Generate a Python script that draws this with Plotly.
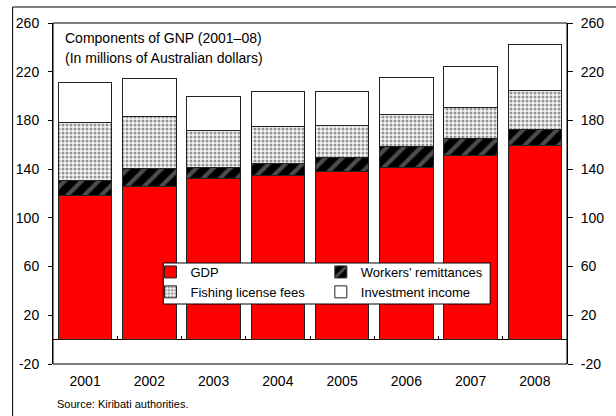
import plotly.graph_objects as go

years = ["2001", "2002", "2003", "2004", "2005", "2006", "2007", "2008"]
gdp = [118.6, 125.7, 132.3, 135.1, 138.4, 141.7, 151.6, 159.8]
remittances = [12.4, 15.2, 9.4, 9.6, 11.5, 17.3, 13.2, 12.6]
fishing = [47.0, 42.1, 30.2, 30.0, 25.6, 25.8, 25.5, 32.2]
investment = [33.0, 31.8, 27.8, 29.3, 28.3, 30.5, 34.1, 37.9]
ytick_vals = [-20, 20, 60, 100, 140, 180, 220, 260]
ytick_text = ["-20", "20", "60", "100", "140", "180", "220", "260"]
title_lines = ["Components of GNP (2001–08)", "(In millions of Australian dollars)"]

FONT = "Liberation Sans, Arial, sans-serif"
line = dict(color="#222222", width=1)

fig = go.Figure()
fig.add_trace(go.Bar(x=years, y=gdp, name="GDP", legend="legend",
                     marker=dict(color="#FF0000", line=line)))
fig.add_trace(go.Bar(x=years, y=remittances, name="Workers' remittances", legend="legend2",
                     marker=dict(color="#000000", line=line,
                                 pattern=dict(shape="/", fgcolor="#9a9a9a", bgcolor="#000000",
                                              fillmode="overlay", size=12, solidity=0.35))))
fig.add_trace(go.Bar(x=years, y=fishing, name="Fishing license fees", legend="legend",
                     marker=dict(color="#f4f4f4", line=line,
                                 pattern=dict(shape=".", fgcolor="#333333", bgcolor="#f4f4f4",
                                              fillmode="overlay", size=4, solidity=0.45))))
fig.add_trace(go.Bar(x=years, y=investment, name="Investment income", legend="legend2",
                     marker=dict(color="#FFFFFF", line=line)))
# helper trace so that the right-hand axis is drawn
fig.add_trace(go.Scatter(x=years, y=[None] * len(years), yaxis="y2",
                         showlegend=False, hoverinfo="skip", mode="lines"))

W, H = 616, 416
L, R, T, B = 53, 41, 23, 52
pw, ph = W - L - R, H - T - B

leg_common = dict(orientation="v", xanchor="left", yanchor="top",
                  bgcolor="rgba(0,0,0,0)", borderwidth=0,
                  font=dict(size=13, family=FONT), traceorder="normal", itemwidth=30)

fig.update_layout(
    width=W, height=H,
    margin=dict(l=L, r=R, t=T, b=B, pad=0),
    paper_bgcolor="white", plot_bgcolor="white",
    barmode="stack", bargap=0.164,
    font=dict(family=FONT, color="black", size=14),
    showlegend=True,
    legend=dict(x=(152 - L) / pw, y=(364 - 257) / ph, **leg_common),
    legend2=dict(x=(325 - L) / pw, y=(364 - 257) / ph, **leg_common),
    xaxis=dict(type="category", categoryorder="array", categoryarray=years,
               range=[-0.5, 7.5], anchor="free", position=20 / 280,
               showline=False, ticks="inside", tickson="boundaries", ticklen=4,
               tickcolor="black", showgrid=False, tickfont=dict(size=14),
               ticklabelstandoff=31),
    yaxis=dict(range=[-20, 260], tickvals=ytick_vals, ticktext=ytick_text,
               showline=True, linecolor="black", linewidth=1, ticks="outside",
               ticklen=4, tickcolor="black", showgrid=False, zeroline=True,
               zerolinecolor="black", zerolinewidth=1, tickfont=dict(size=14),
               ticklabelstandoff=6),
    yaxis2=dict(range=[-20, 260], tickvals=ytick_vals, ticktext=ytick_text,
                overlaying="y", side="right", anchor="x", showline=True,
                linecolor="black", linewidth=1, ticks="outside", ticklen=5,
                tickcolor="black", showgrid=False, zeroline=False,
                tickfont=dict(size=14), ticklabelstandoff=5),
)

# frame of the plot area
fig.add_shape(type="rect", xref="paper", yref="paper", x0=0, x1=1, y0=0, y1=1,
              line=dict(color="black", width=1), fillcolor="rgba(0,0,0,0)", layer="above")
# box behind the two legend columns
fig.add_shape(type="rect", xref="paper", yref="paper",
              x0=(165 - L) / pw, x1=(497 - L) / pw, y0=(364 - 304) / ph, y1=(364 - 263) / ph,
              line=dict(color="black", width=1), fillcolor="white", layer="above")

for i, txt in enumerate(title_lines):
    fig.add_annotation(xref="paper", yref="paper", x=(63 - L) / pw,
                       y=(364 - (38 + 20 * i)) / ph,
                       xanchor="left", yanchor="middle", align="left", showarrow=False,
                       text=txt, font=dict(size=14, family=FONT))
fig.add_annotation(xref="paper", yref="paper", x=(55 - L) / pw, y=(364 - 404) / ph,
                   xanchor="left", yanchor="middle", showarrow=False,
                   text="Source: Kiribati authorities.", font=dict(size=11, family=FONT))
# outer frame of the exhibit
fig.add_shape(type="rect", xref="paper", yref="paper",
              x0=(12 - L) / pw, x1=(640 - L) / pw, y0=(364 - 440) / ph, y1=(364 - 7) / ph,
              line=dict(color="black", width=1), fillcolor="rgba(0,0,0,0)", layer="below")

fig.write_html("out.html", config={"displayModeBar": False},
               post_script="document.body.style.margin='0px';")
